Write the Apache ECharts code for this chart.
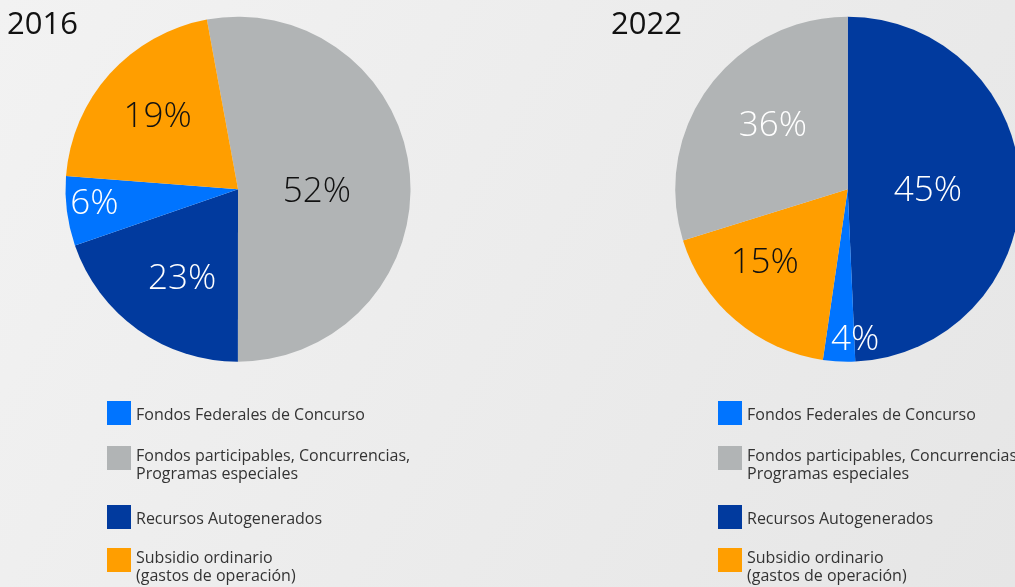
<!DOCTYPE html>
<html>
<head>
<meta charset="utf-8">
<script src="https://cdn.jsdelivr.net/npm/echarts@6/dist/echarts.min.js"></script>
<style>
  html, body { margin: 0; padding: 0; }
  #chart { width: 1015px; height: 587px; }
</style>
</head>
<body>
<div id="chart"></div>
<script>
// legend names (same order as the legend)
var names = [
    'Fondos Federales de Concurso',
    'Fondos participables, Concurrencias,\nProgramas especiales',
    'Recursos Autogenerados',
    'Subsidio ordinario\n(gastos de operación)'
];
var colors = ['#0074ff', '#b1b4b5', '#013a9e', '#ff9e00'];

// 2016 pie, clockwise from top-left: gray, dark blue, light blue, orange
var order2016 = [1, 2, 0, 3];
var slice2016 = [52.9, 19.7, 6.5, 20.9];       // slice sizes as drawn
var pct2016 = ['52%', '23%', '6%', '19%'];      // printed labels
var labelColor2016 = ['#111', '#fff', '#fff', '#111'];

// 2022 pie, clockwise from top: dark blue, light blue, orange, gray
var order2022 = [2, 0, 3, 1];
var slice2022 = [49.3, 3.0, 17.9, 29.8];
var pct2022 = ['45%', '4%', '15%', '36%'];
var labelColor2022 = ['#fff', '#fff', '#111', '#fff'];

// small nudges of the inside labels
var nudge = [
    [[-10, 11], [-4, 17], [-55, 3], [-14, -12]],
    [[-9, 4], [12, 62], [-25, 6], [-3, -10]]
];

var font = "'Open Sans', Lato, sans-serif";

function pieData(order, values, labels, labelColors) {
    return order.map(function (k, i) {
        return {
            name: names[k],
            value: values[i],
            itemStyle: { color: colors[k] },
            label: { formatter: labels[i], color: labelColors[i] }
        };
    });
}

function pieSeries(center, startAngle, data) {
    return {
        type: 'pie',
        center: center,
        radius: 172.5,
        startAngle: startAngle,
        clockwise: true,
        avoidLabelOverlap: false,
        emphasis: { scale: false },
        itemStyle: { borderWidth: 0 },
        label: {
            show: true,
            position: 'inside',
            fontFamily: font,
            fontWeight: 300,
            fontSize: 35
        },
        labelLine: { show: false },
        labelLayout: function (params) {
            var n = nudge[params.seriesIndex][params.dataIndex];
            return { dx: n[0], dy: n[1] };
        },
        data: data
    };
}

// one legend block holding two entries; rich text so the top padding
// pushes two-line names down to hang from the swatch top
function legendAt(left, top, gap, items) {
    return {
        orient: 'vertical',
        left: left,
        top: top,
        height: 150,
        padding: 0,
        icon: 'rect',
        itemWidth: 24,
        itemHeight: 24,
        itemGap: gap,
        selectedMode: false,
        textStyle: {
            fontFamily: font,
            fontSize: 16,
            color: '#333',
            lineHeight: 18.5,
            rich: { t: {} }
        },
        data: items.map(function (k) {
            var twoLines = names[k].indexOf('\n') >= 0;
            return { name: names[k], textStyle: { padding: [twoLines ? 15 : 4, 0, 0, 0] } };
        })
    };
}

var myChart = echarts.init(document.getElementById('chart'), null, { renderer: 'canvas' });

var titleStyle = { fontFamily: font, fontSize: 31, fontWeight: 400, color: '#111' };

var option = {
    animation: false,
    backgroundColor: new echarts.graphic.LinearGradient(0, 0, 1, 1, [
        { offset: 0, color: '#f2f2f2' },
        { offset: 1, color: '#e6e6e6' }
    ]),
    title: [
        { text: '2016', left: 7, top: 10, padding: 0, textStyle: titleStyle },
        { text: '2022', left: 611, top: 10, padding: 0, textStyle: titleStyle }
    ],
    legend: [
        legendAt(107, 401, 7, [0, 1]),
        legendAt(107, 505, 5, [2, 3]),
        legendAt(718, 401, 7, [0, 1]),
        legendAt(718, 505, 5, [2, 3])
    ],
    series: [
        pieSeries([238, 189.2], 100.4, pieData(order2016, slice2016, pct2016, labelColor2016)),
        pieSeries([847.7, 189.2], 90, pieData(order2022, slice2022, pct2022, labelColor2022))
    ]
};

myChart.setOption(option);
window.addEventListener('resize', function () {
    myChart.resize();
});
</script>
</body>
</html>
